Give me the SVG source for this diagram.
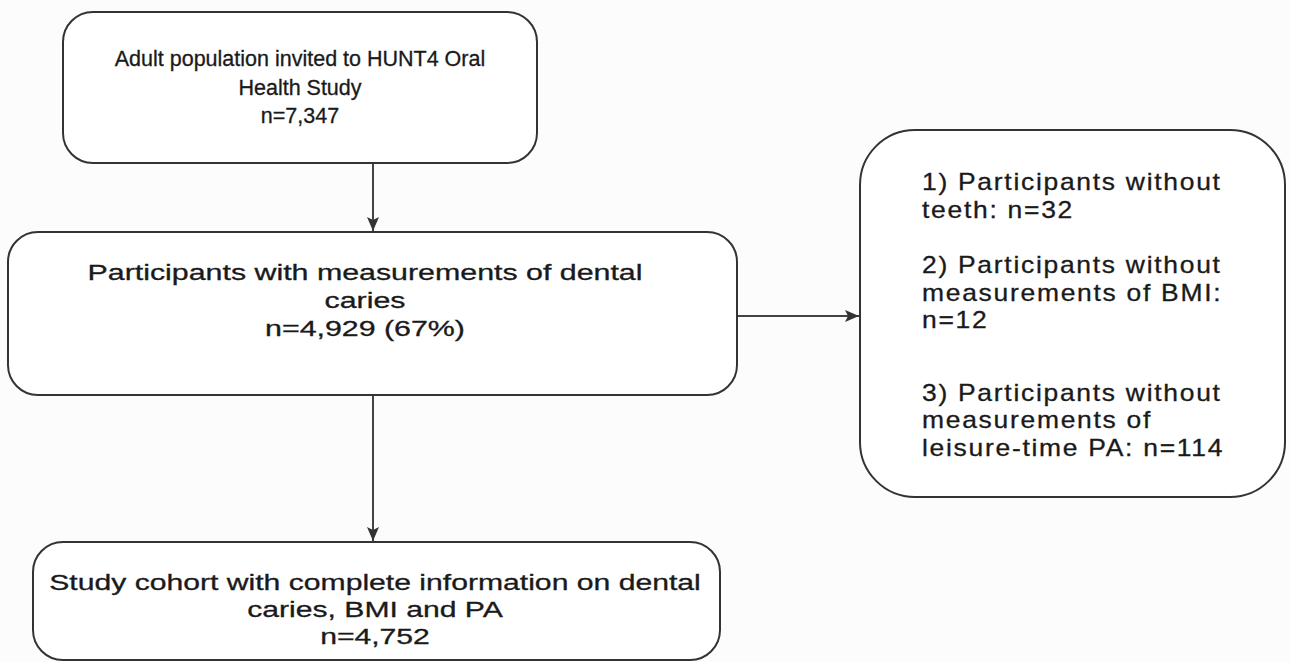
<svg xmlns="http://www.w3.org/2000/svg" width="1290" height="662" viewBox="0 0 1290 662">
<defs>
<style>
.box{fill:#ffffff;stroke:#333333;stroke-width:2}
.t{font-family:"Liberation Sans",Arial,sans-serif;font-size:21.5px;fill:#1a1a1a;stroke:#1a1a1a;stroke-width:0.3px;text-anchor:middle}
.t2{font-family:"Liberation Sans",Arial,sans-serif;font-size:22px;fill:#1a1a1a;stroke:#1a1a1a;stroke-width:0.3px;text-anchor:middle}
.r{font-family:"Liberation Sans",Arial,sans-serif;font-size:23px;fill:#1a1a1a;stroke:#1a1a1a;stroke-width:0.3px;letter-spacing:1.5px}
.c{stroke:#444444;stroke-width:2;fill:none}
</style>
<marker id="ah" viewBox="0 0 14 12" refX="14" refY="6" markerWidth="14" markerHeight="12" markerUnits="userSpaceOnUse" orient="auto">
<path d="M0,0 L14,6 L0,12 L3,6 Z" fill="#333333"/>
</marker>
</defs>
<rect width="1290" height="662" fill="#fcfcfc"/>
<g id="connectors">
<line class="c" x1="373" y1="163" x2="373" y2="231" marker-end="url(#ah)"/>
<line class="c" x1="373" y1="395" x2="373" y2="541" marker-end="url(#ah)"/>
<line class="c" x1="737" y1="316" x2="859" y2="316" marker-end="url(#ah)"/>
</g>
<g id="n1">
<rect class="box" x="63" y="12" width="474" height="151" rx="30"/>
<text class="t" x="300" y="66">Adult population invited to HUNT4 Oral</text>
<text class="t" x="300" y="95">Health Study</text>
<text class="t" x="300" y="123">n=7,347</text>
</g>
<g id="n2">
<rect class="box" x="8" y="232" width="729" height="163" rx="30"/>
<g transform="translate(365,0) scale(1.38,1)">
<text class="t2" x="0" y="280">Participants with measurements of dental</text>
<text class="t2" x="0" y="308">caries</text>
<text class="t2" x="0" y="336">n=4,929 (67%)</text>
</g>
</g>
<g id="n3">
<rect class="box" x="860" y="130" width="425" height="367" rx="55"/>
<g transform="translate(922,0) scale(1.15,1)">
<text class="r" x="0" y="190">1) Participants without</text>
<text class="r" x="0" y="218">teeth: n=32</text>
<text class="r" x="0" y="273">2) Participants without</text>
<text class="r" x="0" y="301">measurements of BMI:</text>
<text class="r" x="0" y="328">n=12</text>
<text class="r" x="0" y="401">3) Participants without</text>
<text class="r" x="0" y="428">measurements of</text>
<text class="r" x="0" y="456">leisure-time PA: n=114</text>
</g>
</g>
<g id="n4">
<rect class="box" x="33" y="542" width="687" height="118" rx="30"/>
<g transform="translate(375,0) scale(1.37,1)">
<text class="t2" x="0" y="590">Study cohort with complete information on dental</text>
<text class="t2" x="0" y="617">caries, BMI and PA</text>
<text class="t2" x="0" y="644">n=4,752</text>
</g>
</g>
</svg>
